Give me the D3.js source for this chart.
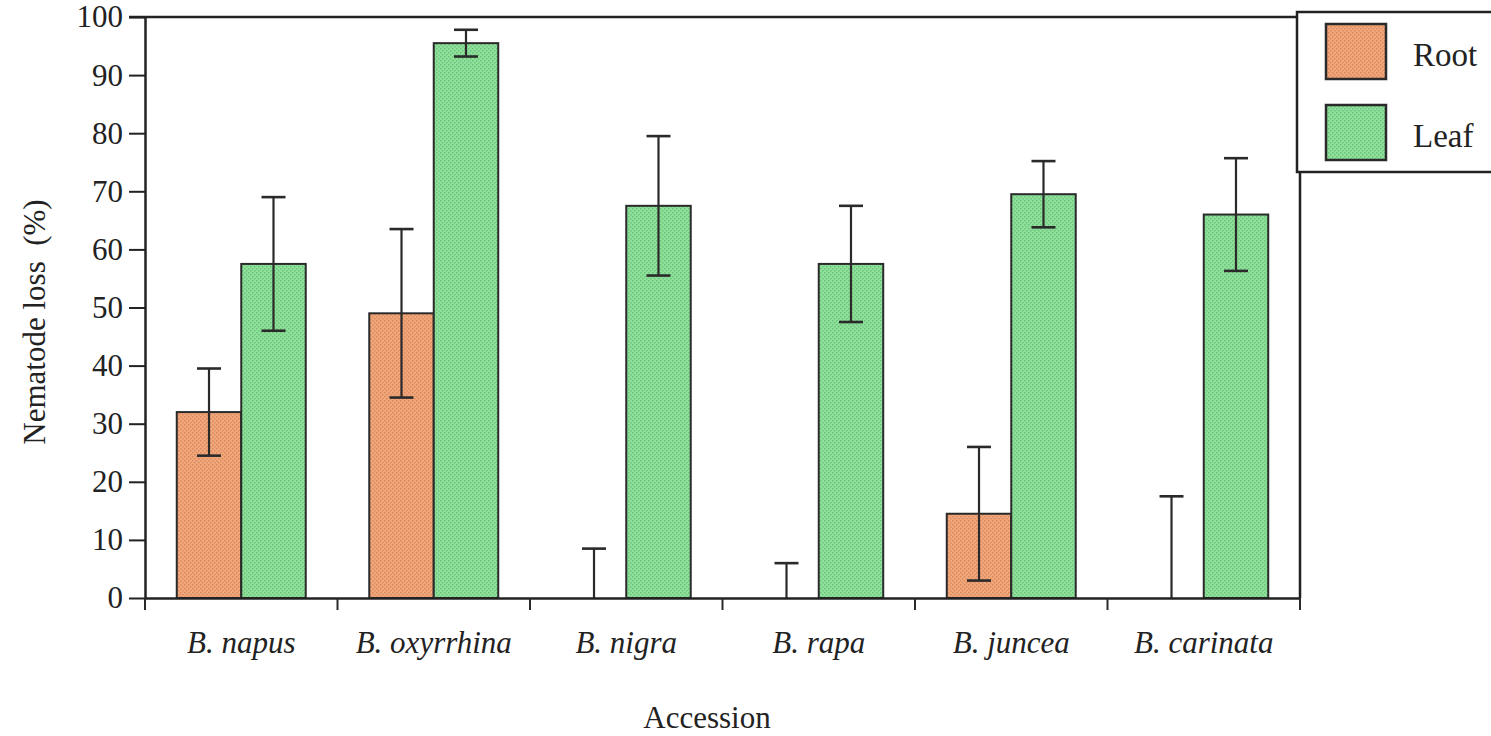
<!doctype html>
<html>
<head>
<meta charset="utf-8">
<script src="https://cdn.jsdelivr.net/npm/d3@7"></script>
<style>
  body { margin: 0; background: #fff; }
  svg text { font-family: "Liberation Serif", "Times New Roman", serif; fill: #222; }
</style>
</head>
<body>
<div id="chart"></div>
<script>
var categories = ["B. napus", "B. oxyrrhina", "B. nigra", "B. rapa", "B. juncea", "B. carinata"];
var series = ["Root", "Leaf"];
var rootValues = [32, 49, 0, 0, 14.5, 0];
var rootErrors = [7.5, 14.5, 8.5, 6, 11.5, 17.5];
var leafValues = [57.5, 95.5, 67.5, 57.5, 69.5, 66];
var leafErrors = [11.5, 2.3, 12, 10, 5.7, 9.7];
var yTicks = [0, 10, 20, 30, 40, 50, 60, 70, 80, 90, 100];

var w = 1491, h = 736;
var mLeft = 145, mRight = 1300, mTop = 17, mBottom = 598;

var svg = d3.select("#chart").append("svg")
    .attr("width", w)
    .attr("height", h);

// textured fills (scanned halftone look)
var defs = svg.append("defs");
function texture(id, base, dot) {
    var p = defs.append("pattern")
        .attr("id", id)
        .attr("width", 4).attr("height", 4)
        .attr("patternUnits", "userSpaceOnUse");
    p.append("rect").attr("width", 4).attr("height", 4).attr("fill", base);
    p.append("rect").attr("x", 0).attr("y", 0).attr("width", 1.5).attr("height", 1.5).attr("fill", dot);
    p.append("rect").attr("x", 2).attr("y", 2).attr("width", 1.5).attr("height", 1.5).attr("fill", dot);
}
texture("rootFill", "#f2a77a", "#d98a60");
texture("leafFill", "#8fe09b", "#6cc47c");
var fills = { Root: "url(#rootFill)", Leaf: "url(#leafFill)" };

var x = d3.scaleBand()
    .domain(categories)
    .range([mLeft, mRight])
    .paddingInner(0.33)
    .paddingOuter(0.165);

var xSub = d3.scaleBand()
    .domain(series)
    .range([0, x.bandwidth()]);

var y = d3.scaleLinear()
    .domain([0, 100])
    .range([mBottom, mTop]);

var data = [];
categories.forEach(function (c, i) {
    data.push({ cat: c, s: "Root", v: rootValues[i], e: rootErrors[i] });
    data.push({ cat: c, s: "Leaf", v: leafValues[i], e: leafErrors[i] });
});

// bars
svg.selectAll("rect.bar")
    .data(data.filter(function (d) { return d.v > 0; }))
    .enter()
    .append("rect")
    .attr("class", "bar")
    .attr("x", function (d) { return x(d.cat) + xSub(d.s); })
    .attr("y", function (d) { return y(d.v); })
    .attr("width", xSub.bandwidth())
    .attr("height", function (d) { return y(0) - y(d.v); })
    .attr("fill", function (d) { return fills[d.s]; })
    .attr("stroke", "#2a2a2a")
    .attr("stroke-width", 2);

// error bars
var err = svg.selectAll("g.err")
    .data(data)
    .enter()
    .append("g")
    .attr("class", "err")
    .attr("stroke", "#2a2a2a")
    .attr("stroke-width", 2.2);

function cx(d) { return x(d.cat) + xSub(d.s) + xSub.bandwidth() / 2; }

err.append("line")
    .attr("x1", cx).attr("x2", cx)
    .attr("y1", function (d) { return y(Math.max(0, d.v - d.e)); })
    .attr("y2", function (d) { return y(d.v + d.e); });
err.append("line")
    .attr("x1", function (d) { return cx(d) - 12; })
    .attr("x2", function (d) { return cx(d) + 12; })
    .attr("y1", function (d) { return y(d.v + d.e); })
    .attr("y2", function (d) { return y(d.v + d.e); })
    .attr("stroke-width", 2.6);
err.filter(function (d) { return d.v - d.e > 0; })
    .append("line")
    .attr("x1", function (d) { return cx(d) - 12; })
    .attr("x2", function (d) { return cx(d) + 12; })
    .attr("y1", function (d) { return y(d.v - d.e); })
    .attr("y2", function (d) { return y(d.v - d.e); })
    .attr("stroke-width", 2.6);

// y axis
var yAxis = svg.append("g")
    .attr("transform", "translate(" + mLeft + ",0)")
    .call(d3.axisLeft(y).tickValues(yTicks).tickSize(16).tickSizeOuter(0).tickPadding(6));
yAxis.selectAll("text").style("font-size", "31px").attr("fill", "#222");

// x axis, with separator ticks between categories
var xAxis = svg.append("g")
    .attr("transform", "translate(0," + mBottom + ")")
    .call(d3.axisBottom(x).tickSize(0).tickSizeOuter(0).tickPadding(33));
xAxis.selectAll("text")
    .style("font-size", "31px")
    .style("font-style", "italic")
    .attr("fill", "#222");
var seps = d3.range(categories.length + 1).map(function (i) {
    return i < categories.length ? x(categories[i]) - x.step() * x.paddingOuter() : mRight;
});
xAxis.selectAll(".sep")
    .data(seps)
    .enter()
    .append("line")
    .attr("class", "sep")
    .attr("x1", function (d) { return d; })
    .attr("x2", function (d) { return d; })
    .attr("y1", 0).attr("y2", 12)
    .attr("stroke", "#2a2a2a")
    .attr("stroke-width", 2);

svg.selectAll(".domain").attr("stroke", "#222").attr("stroke-width", 2.5);
svg.selectAll(".tick line").attr("stroke", "#222").attr("stroke-width", 2);

// frame: top and right
svg.append("line")
    .attr("x1", mLeft - 16).attr("x2", mRight)
    .attr("y1", y(100)).attr("y2", y(100))
    .attr("stroke", "#222").attr("stroke-width", 2.5);
svg.append("line")
    .attr("x1", mRight).attr("x2", mRight)
    .attr("y1", y(100)).attr("y2", y(0))
    .attr("stroke", "#222").attr("stroke-width", 2.5);

// axis titles
svg.append("text")
    .attr("text-anchor", "middle")
    .attr("transform", "translate(45,322)rotate(-90)")
    .style("font-size", "31px")
    .style("white-space", "pre")
    .text("Nematode loss  (%)");

svg.append("text")
    .attr("text-anchor", "middle")
    .attr("x", 707)
    .attr("y", 728)
    .style("font-size", "31px")
    .text("Accession");

// legend
var lg = svg.append("g");
lg.append("rect")
    .attr("x", 1297).attr("y", 12)
    .attr("width", 210).attr("height", 160)
    .attr("fill", "#fff")
    .attr("stroke", "#222").attr("stroke-width", 2.5);
series.forEach(function (s, i) {
    lg.append("rect")
        .attr("x", 1326).attr("y", 24 + i * 81)
        .attr("width", 60).attr("height", 55)
        .attr("fill", fills[s])
        .attr("stroke", "#2a2a2a").attr("stroke-width", 2.5);
    lg.append("text")
        .attr("x", 1413).attr("y", 66 + i * 81)
        .style("font-size", "33px")
        .text(s);
});
</script>
</body>
</html>
